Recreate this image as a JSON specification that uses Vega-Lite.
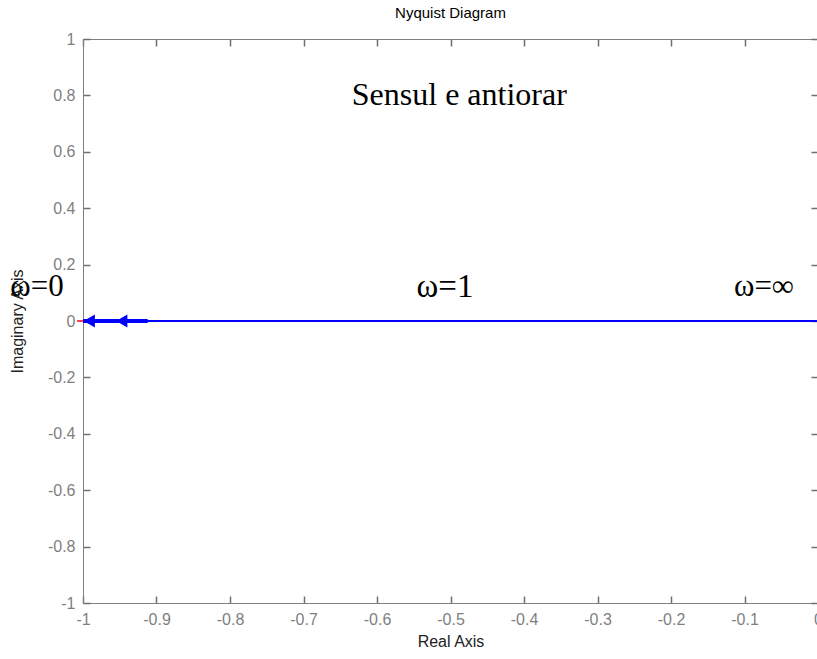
{
  "$schema": "https://vega.github.io/schema/vega-lite/v6.json",
  "width": 735,
  "height": 564,
  "autosize": "none",
  "padding": {"left": 83, "top": 39, "right": 0, "bottom": 56},
  "background": "white",
  "title": {
    "text": "Nyquist Diagram",
    "font": "Liberation Sans",
    "fontSize": 15,
    "fontWeight": "normal",
    "color": "#000000",
    "offset": 10
  },
  "config": {
    "view": {"stroke": null},
    "axis": {
      "domainColor": "#7f7f7f",
      "tickColor": "#6f6f6f",
      "tickWidth": 1.5,
      "labelColor": "#7f7f7f",
      "labelFont": "Liberation Sans",
      "labelFontSize": 16,
      "titleFont": "Liberation Sans",
      "titleFontSize": 16,
      "titleFontWeight": "normal",
      "titleColor": "#222222",
      "grid": false,
      "tickSize": -7,
      "labelPadding": 15,
      "labelExpr": "replace(format(datum.value, '~g'), '−', '-')"
    }
  },
  "datasets": {
    "curve": [
      {"re": -1.0, "im": 0},
      {"re": 0.0, "im": 0}
    ],
    "lowfreq": [
      {"re": -1.0, "im": 0},
      {"re": -0.912, "im": 0}
    ],
    "critical": [
      {"re": -1.008, "im": 0},
      {"re": -1.0, "im": 0}
    ],
    "arrows": [
      {"re": -0.9915, "im": 0},
      {"re": -0.9473, "im": 0}
    ],
    "notes": [
      {"re": -0.488, "im": 0.8, "label": "Sensul e antiorar", "size": 32},
      {"re": -1.0626, "im": 0.121, "label": "ω=0", "size": 31},
      {"re": -0.5075, "im": 0.121, "label": "ω=1", "size": 33},
      {"re": -0.0735, "im": 0.121, "label": "ω=∞", "size": 31}
    ]
  },
  "resolve": {"axis": {"x": "independent", "y": "independent"}},
  "layer": [
    {
      "data": {"name": "curve"},
      "mark": {"type": "line", "color": "#0000ff", "strokeWidth": 2},
      "encoding": {
        "x": {
          "field": "re", "type": "quantitative",
          "scale": {"domain": [-1, 0], "nice": false, "zero": false},
          "axis": {
            "orient": "bottom",
            "title": "Real Axis",
            "values": [-1, -0.9, -0.8, -0.7, -0.6, -0.5, -0.4, -0.3, -0.2, -0.1, 0],
            "titlePadding": 6,
            "labelFlush": false
          }
        },
        "y": {
          "field": "im", "type": "quantitative",
          "scale": {"domain": [-1, 1], "nice": false},
          "axis": {
            "orient": "left",
            "title": "Imaginary Axis",
            "values": [-1, -0.8, -0.6, -0.4, -0.2, 0, 0.2, 0.4, 0.6, 0.8, 1],
            "titlePadding": 22,
            "labelFlush": false
          }
        }
      }
    },
    {
      "data": {"name": "lowfreq"},
      "mark": {"type": "line", "color": "#0000ff", "strokeWidth": 4},
      "encoding": {
        "x": {
          "field": "re", "type": "quantitative",
          "axis": {
            "orient": "top",
            "title": null,
            "labels": false,
            "values": [-1, -0.9, -0.8, -0.7, -0.6, -0.5, -0.4, -0.3, -0.2, -0.1, 0]
          }
        },
        "y": {
          "field": "im", "type": "quantitative",
          "axis": {
            "orient": "right",
            "title": null,
            "labels": false,
            "values": [-1, -0.8, -0.6, -0.4, -0.2, 0, 0.2, 0.4, 0.6, 0.8, 1]
          }
        }
      }
    },
    {
      "data": {"name": "critical"},
      "mark": {"type": "line", "color": "#ff0000", "strokeWidth": 1.5},
      "encoding": {
        "x": {"field": "re", "type": "quantitative", "axis": null},
        "y": {"field": "im", "type": "quantitative", "axis": null}
      }
    },
    {
      "data": {"name": "arrows"},
      "mark": {"type": "point", "shape": "triangle-left", "filled": true, "color": "#0000ff", "size": 170, "opacity": 1},
      "encoding": {
        "x": {"field": "re", "type": "quantitative", "axis": null},
        "y": {"field": "im", "type": "quantitative", "axis": null}
      }
    },
    {
      "data": {"name": "notes"},
      "mark": {"type": "text", "font": "Liberation Serif", "color": "#000000", "align": "center", "baseline": "middle"},
      "encoding": {
        "x": {"field": "re", "type": "quantitative", "axis": null},
        "y": {"field": "im", "type": "quantitative", "axis": null},
        "text": {"field": "label"},
        "size": {"field": "size", "type": "quantitative", "scale": null}
      }
    }
  ]
}
